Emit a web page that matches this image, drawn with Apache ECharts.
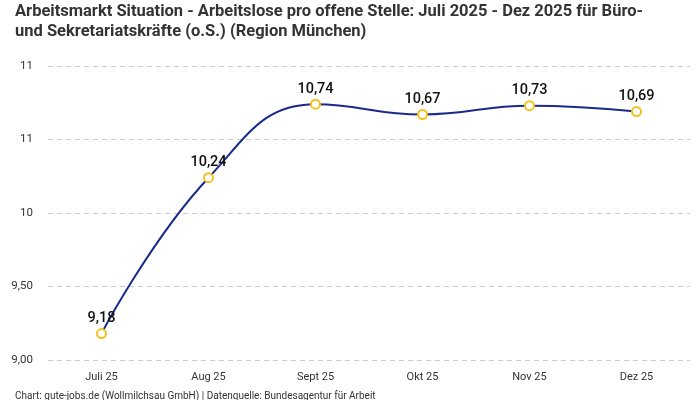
<!DOCTYPE html>
<html><head><meta charset="utf-8">
<script src="https://cdn.jsdelivr.net/npm/echarts@6/dist/echarts.min.js"></script>
<style>html,body{margin:0;padding:0;background:#fff}#c{width:700px;height:400px}</style>
</head><body><div id="c"></div>
<script>
var categories = ["Juli 25", "Aug 25", "Sept 25", "Okt 25", "Nov 25", "Dez 25"];
var values = [9.18, 10.24, 10.74, 10.67, 10.73, 10.69];
var tickValues = [9.0, 9.5, 10.0, 10.5, 11.0];
var tickLabels = ["9,00", "9,50", "10", "11", "11"];
var titleText = "Arbeitsmarkt Situation - Arbeitslose pro offene Stelle: Juli 2025 - Dez 2025 für Büro-\nund Sekretariatskräfte (o.S.) (Region München)";
var footerText = "Chart: gute-jobs.de (Wollmilchsau GmbH) | Datenquelle: Bundesagentur für Arbeit";

var chart = echarts.init(document.getElementById('c'), null, {renderer: 'canvas'});
chart.setOption({
  animation: false,
  backgroundColor: '#fff',
  title: [{
    text: titleText,
    left: 10, top: -3,
    textStyle: {fontFamily: 'Roboto, sans-serif', fontWeight: 'bold', fontSize: 16.5, color: '#333', lineHeight: 20}
  }, {
    text: footerText,
    left: 10, top: 386,
    textStyle: {fontFamily: 'Roboto, sans-serif', fontWeight: 'normal', fontSize: 10, color: '#333'}
  }],
  grid: {left: 48, right: 10, top: 66, bottom: 40, containLabel: false},
  xAxis: {
    type: 'category',
    data: categories,
    boundaryGap: true,
    axisLine: {show: false},
    axisTick: {show: false},
    axisLabel: {color: '#333', fontSize: 11, fontFamily: 'Roboto, sans-serif', margin: 12}
  },
  yAxis: {
    type: 'value',
    min: 9, max: 11, interval: 0.5,
    axisLine: {show: false},
    axisTick: {show: false},
    splitLine: {lineStyle: {color: '#ccc', type: [5, 4], width: 1}},
    axisLabel: {
      color: '#333', fontSize: 11.5, fontFamily: 'Roboto, sans-serif', margin: 15,
      formatter: function (v) {
        for (var i = 0; i < tickValues.length; i++) if (Math.abs(tickValues[i] - v) < 1e-6) return tickLabels[i];
        return '';
      }
    }
  },
  series: [{
    type: 'line',
    data: values,
    smooth: 0.45,
    symbol: 'circle',
    symbolSize: 9,
    lineStyle: {color: '#1a2a8c', width: 2},
    itemStyle: {color: '#fff', borderColor: '#f5c21b', borderWidth: 2},
    label: {
      show: true, position: 'top', distance: 2,
      color: '#111', fontSize: 14.5, fontWeight: 500, fontFamily: 'Roboto, sans-serif',
      formatter: function (p) { return p.value.toFixed(2).replace('.', ','); }
    }
  }]
});
</script></body></html>
